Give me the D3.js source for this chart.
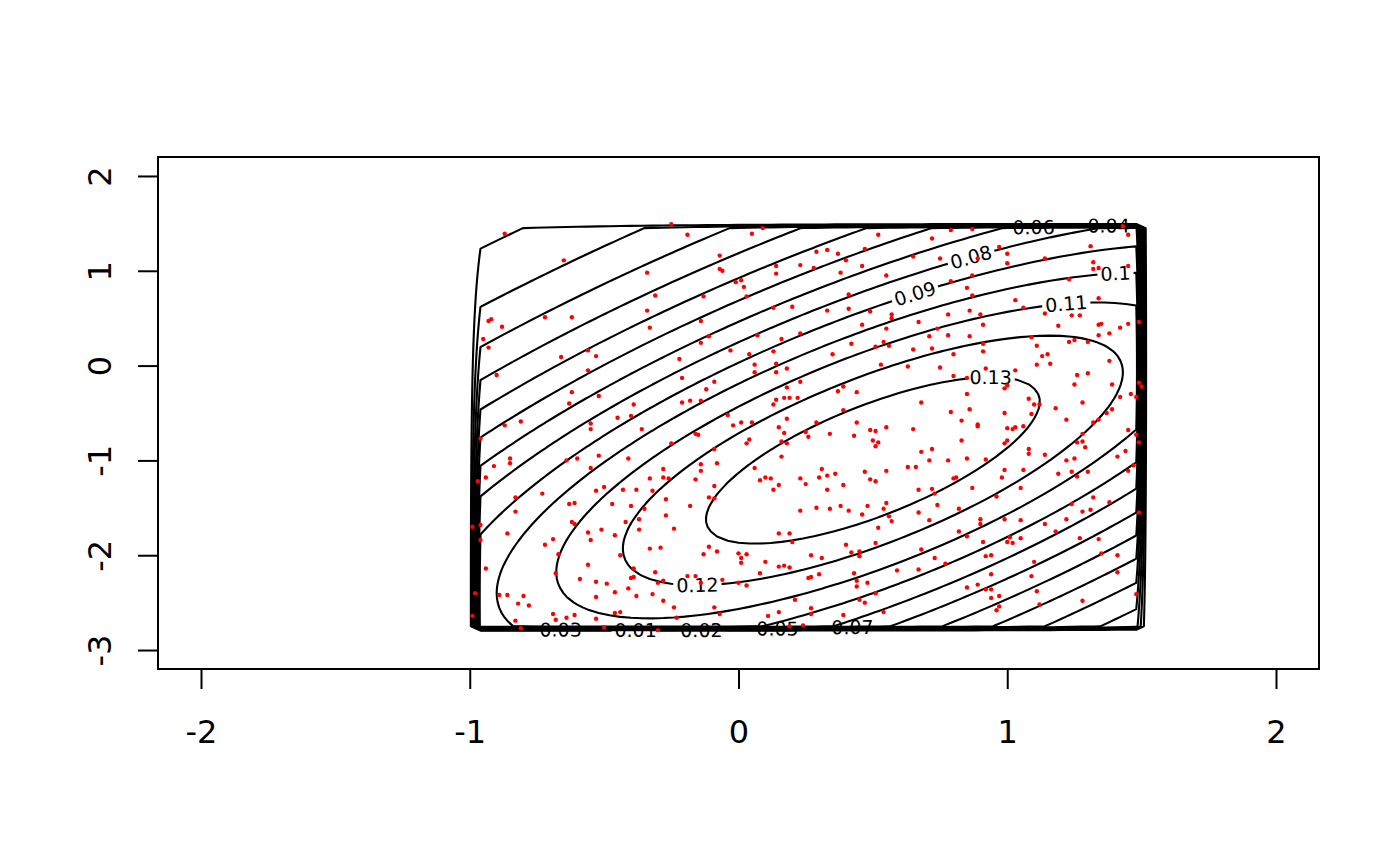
<!DOCTYPE html>
<html>
<head>
<meta charset="utf-8">
<script src="https://cdn.jsdelivr.net/npm/d3@7"></script>
<style>
  body { margin: 0; background: #fff; }
  svg { display: block; }
  text { font-family: "DejaVu Sans", sans-serif; }
</style>
</head>
<body>
<svg id="chart" width="1400" height="866"></svg>
<script>
// ---------------- data ----------------
const xTicks = [-2, -1, 0, 1, 2];
const yTicks = [-3, -2, -1, 0, 1, 2];

// truncated bivariate normal
const densMean = [0.5, -1];
const densSigma = [[3, 3], [3, 6]];
const densLower = [-1, -2.8];
const densUpper = [1.5, 1.5];

const contourLevels = [0.01, 0.02, 0.03, 0.04, 0.05, 0.06, 0.07, 0.08, 0.09, 0.10, 0.11, 0.12, 0.13];

// contour labels (level, approximate data position)
const labelLevels = [0.06, 0.04, 0.08, 0.1, 0.09, 0.11, 0.13, 0.12, 0.03, 0.01, 0.02, 0.05, 0.07];
const labelX = [1.098, 1.377, 0.867, 1.403, 0.659, 1.220, 0.938, -0.153, -0.662, -0.383, -0.138, 0.145, 0.424];
const labelY = [1.453, 1.463, 1.126, 0.958, 0.737, 0.632, -0.158, -2.295, -2.79, -2.80, -2.80, -2.79, -2.78];

// sampled points
const samplePoints = [
[-0.87,1.39],[-0.25,1.49],[-0.19,1.38],[-0.65,1.11],[-0.34,0.98],[-0.31,0.74],[-0.93,0.47],[-0.92,0.49],[-0.88,0.41],[-0.72,0.51],[-0.62,0.51],[-0.34,0.58],[-0.33,0.40],[-0.95,0.28],[-0.93,0.19],[-0.56,0.16],[-0.53,0.10],[-0.66,0.09],[-0.22,0.07],
[0.09,1.45],[0.05,1.39],[0.52,1.38],[-0.07,1.16],[0.29,1.20],[0.33,1.22],[0.37,1.18],[0.47,1.23],[0.40,1.11],[0.65,1.15],[-0.07,1.02],[-0.06,1.00],[0.14,1.05],[0.14,0.97],[0.23,1.06],[0.28,1.03],[0.46,1.05],[0.38,0.98],[0.55,0.95],[-0.01,0.88],[0.01,0.90],[0.02,0.83],[0.03,0.73],[-0.13,0.73],[0.41,0.75],[0.13,0.61],[0.20,0.62],[0.33,0.58],[0.41,0.60],[0.49,0.57],[0.57,0.54],[0.57,0.50],[0.67,0.46],[-0.14,0.47],[0.46,0.43],[0.55,0.39],[-0.11,0.31],[0.07,0.32],[0.23,0.34],[0.16,0.28],[-0.14,0.24],[0.42,0.23],[0.54,0.25],[0.56,0.21],[0.51,0.20],[0.65,0.17],[-0.03,0.16],[0.13,0.15],[0.04,0.12],[0.35,0.12],
[0.79,1.43],[0.87,1.44],[1.43,1.47],[1.45,1.38],[0.72,1.34],[0.97,1.25],[1.31,1.26],[0.75,1.13],[0.89,1.13],[1.00,1.18],[1.00,1.08],[1.14,1.13],[1.32,1.09],[1.32,1.02],[1.34,1.03],[1.45,1.05],[0.87,0.95],[0.79,0.89],[1.23,0.91],[0.85,0.82],[0.87,0.74],[1.34,0.71],[1.03,0.69],[1.06,0.61],[0.78,0.54],[0.86,0.58],[0.90,0.54],[1.14,0.55],[1.24,0.53],[1.27,0.53],[1.49,0.46],[1.45,0.44],[1.42,0.40],[1.34,0.43],[1.35,0.44],[1.19,0.42],[0.91,0.43],[0.74,0.39],[0.71,0.31],[0.78,0.32],[0.86,0.31],[1.09,0.30],[1.38,0.34],[1.34,0.32],[1.23,0.25],[1.25,0.27],[1.30,0.25],[0.91,0.23],[0.72,0.18],[1.11,0.21],[0.91,0.15],[0.80,0.12],[1.13,0.10],[1.15,0.12],[1.38,0.05],
[-0.90,-0.10],[-0.56,-0.05],[-0.21,-0.13],[-0.62,-0.28],[-0.52,-0.32],[-0.63,-0.40],[-0.39,-0.41],[-0.21,-0.39],[-0.18,-0.37],[-0.87,-0.63],[-0.81,-0.59],[-0.55,-0.61],[-0.55,-0.67],[-0.45,-0.55],[-0.40,-0.53],[-0.36,-0.67],[-0.96,-0.77],[-0.25,-0.82],[-0.85,-0.98],[-0.85,-1.03],[-0.91,-1.06],[-0.64,-1.00],[-0.60,-0.98],[-0.52,-0.95],[-0.41,-0.98],[-0.55,-1.08],[-0.94,-1.18],[-0.97,-1.22],[-0.28,-1.09],[-0.28,-1.18],[-0.26,-1.19],[-0.33,-1.19],[-0.16,-1.20],[-0.50,-1.28],[-0.53,-1.32],[-0.43,-1.31],[-0.38,-1.31],[-0.32,-1.32],[-0.83,-1.39],[-0.73,-1.35],[-0.27,-1.41],[-0.61,-1.45],[-0.63,-1.46],[-0.47,-1.46],
[0.06,0.01],[0.14,0.02],[0.53,0.01],[0.63,-0.01],[0.06,-0.07],[0.14,-0.07],[0.18,-0.03],[-0.09,-0.17],[-0.12,-0.25],[0.23,-0.17],[0.18,-0.23],[0.39,-0.22],[0.37,-0.27],[0.44,-0.28],[-0.14,-0.37],[0.14,-0.36],[0.13,-0.41],[0.17,-0.34],[0.19,-0.34],[0.22,-0.34],[0.68,-0.39],[0.39,-0.47],[-0.04,-0.52],[-0.02,-0.63],[0.01,-0.60],[0.05,-0.60],[0.18,-0.56],[0.29,-0.60],[0.44,-0.60],[0.15,-0.65],[-0.16,-0.72],[-0.15,-0.73],[0.17,-0.71],[0.25,-0.70],[0.26,-0.75],[0.34,-0.72],[0.43,-0.74],[0.49,-0.68],[0.51,-0.69],[0.55,-0.65],[0.65,-0.67],[0.04,-0.78],[0.03,-0.82],[0.16,-0.80],[0.18,-0.82],[0.50,-0.79],[0.52,-0.81],[0.51,-0.85],[-0.09,-0.88],[0.16,-0.96],[0.68,-0.91],[-0.14,-1.04],[-0.08,-1.03],[-0.14,-1.11],[0.06,-1.08],[0.63,-1.07],[0.66,-1.07],[0.31,-1.09],[0.36,-1.14],[0.33,-1.16],[0.30,-1.18],[0.23,-1.19],[0.47,-1.12],[0.55,-1.11],[0.49,-1.20],[0.51,-1.22],[0.10,-1.18],[0.08,-1.21],[0.12,-1.19],[-0.09,-1.27],[0.15,-1.26],[0.13,-1.31],[0.25,-1.25],[0.39,-1.26],[0.33,-1.31],[0.67,-1.31],[-0.11,-1.39],[-0.09,-1.40],[0.55,-1.45],
[0.75,-0.02],[0.80,-0.11],[0.92,-0.03],[1.03,-0.05],[1.11,0.01],[1.16,0.02],[1.26,-0.10],[1.30,-0.08],[1.25,-0.20],[1.39,-0.20],[1.49,-0.18],[1.50,-0.22],[0.85,-0.13],[1.00,-0.21],[0.99,-0.24],[0.85,-0.30],[1.46,-0.30],[1.48,-0.33],[1.42,-0.33],[1.08,-0.35],[1.10,-0.41],[1.12,-0.41],[1.28,-0.39],[1.18,-0.45],[0.86,-0.46],[0.79,-0.49],[0.99,-0.50],[1.09,-0.51],[1.39,-0.46],[1.37,-0.50],[0.83,-0.58],[1.22,-0.57],[1.34,-0.57],[1.32,-0.60],[0.89,-0.62],[0.89,-0.64],[1.00,-0.66],[1.02,-0.67],[1.03,-0.65],[1.06,-0.64],[1.45,-0.68],[1.28,-0.72],[1.48,-0.73],[0.83,-0.79],[1.00,-0.79],[0.99,-0.82],[1.26,-0.81],[1.28,-0.80],[1.49,-0.81],[1.29,-0.86],[0.72,-0.88],[1.08,-0.88],[1.44,-0.90],[1.08,-0.93],[1.14,-0.94],[0.71,-1.00],[0.78,-1.00],[0.85,-0.98],[0.92,-0.99],[1.22,-1.00],[1.25,-0.98],[1.41,-0.96],[1.47,-1.05],[0.99,-1.10],[1.06,-1.10],[1.24,-1.12],[1.30,-1.12],[1.45,-1.11],[1.19,-1.14],[1.26,-1.17],[0.80,-1.19],[0.81,-1.18],[0.98,-1.18],[0.72,-1.30],[0.73,-1.35],[0.87,-1.29],[1.05,-1.29],[0.96,-1.38],[1.32,-1.39],[1.38,-1.44],[1.24,-1.46],
[-0.40,-1.48],[-0.18,-1.48],[-0.83,-1.54],[-0.35,-1.51],[-0.27,-1.58],[-0.96,-1.68],[-0.99,-1.70],[-0.62,-1.65],[-0.61,-1.67],[-0.42,-1.65],[-0.37,-1.62],[-0.24,-1.72],[-0.37,-1.73],[-0.86,-1.77],[-0.56,-1.76],[-0.51,-1.73],[-0.46,-1.79],[-0.96,-1.84],[-0.69,-1.83],[-0.72,-1.89],[-0.55,-1.84],[-0.33,-1.93],[-0.29,-1.92],[-0.67,-1.99],[-0.44,-2.00],[-0.94,-2.14],[-0.56,-2.10],[-0.39,-2.14],[-0.31,-2.18],[-0.68,-2.19],[-0.59,-2.25],[-0.53,-2.28],[-0.49,-2.30],[-0.40,-2.24],[-0.39,-2.23],[-0.30,-2.29],[-0.28,-2.27],[-0.19,-2.22],[-0.41,-2.35],[-0.46,-2.39],[-0.98,-2.40],[-0.89,-2.42],[-0.86,-2.42],[-0.80,-2.43],[-0.78,-2.53],[-0.82,-2.51],[-0.53,-2.44],[-0.38,-2.43],[-0.32,-2.41],[-0.28,-2.48],[-0.24,-2.55],[-0.23,-2.66],[-0.99,-2.64],[-0.83,-2.69],[-0.69,-2.62],[-0.68,-2.68],[-0.64,-2.66],[-0.61,-2.63],[-0.53,-2.67],[-0.46,-2.61],[-0.44,-2.60],[-0.81,-2.77],[-0.50,-2.76],[-0.30,-2.79],
[0.23,-1.53],[0.29,-1.50],[0.34,-1.51],[0.38,-1.48],[0.41,-1.53],[0.46,-1.57],[0.48,-1.48],[0.54,-1.51],[0.56,-1.59],[0.57,-1.64],[0.67,-1.55],[0.52,-1.71],[0.15,-1.77],[0.19,-1.77],[0.20,-1.86],[-0.11,-1.91],[-0.13,-1.99],[-0.08,-1.96],[0.00,-1.98],[0.01,-2.03],[0.01,-2.08],[0.03,-1.99],[0.10,-2.07],[0.15,-2.12],[0.17,-2.11],[0.19,-2.13],[0.27,-2.00],[0.31,-2.03],[0.40,-1.89],[0.42,-1.97],[0.45,-1.96],[0.45,-2.01],[0.51,-1.87],[0.68,-1.94],[0.08,-2.19],[-0.16,-2.22],[-0.14,-2.29],[-0.06,-2.26],[0.00,-2.29],[0.03,-2.32],[0.26,-2.24],[0.27,-2.23],[0.30,-2.20],[0.43,-2.19],[0.44,-2.27],[0.44,-2.33],[0.48,-2.29],[0.59,-2.16],[0.67,-2.15],[0.51,-2.40],[0.21,-2.47],[0.45,-2.47],[0.47,-2.50],[-0.09,-2.55],[-0.07,-2.62],[0.15,-2.60],[0.11,-2.64],[0.27,-2.56],[0.27,-2.62],[0.39,-2.63],[0.54,-2.60],[0.19,-2.75],[0.24,-2.74],
[0.74,-1.47],[0.82,-1.51],[1.28,-1.54],[1.31,-1.52],[1.49,-1.55],[0.71,-1.63],[0.90,-1.62],[0.90,-1.67],[0.99,-1.62],[1.05,-1.63],[1.14,-1.67],[1.22,-1.62],[0.82,-1.75],[0.85,-1.80],[1.18,-1.75],[1.01,-1.81],[1.00,-1.86],[1.02,-1.87],[1.05,-1.82],[1.27,-1.82],[1.34,-1.83],[0.91,-1.86],[0.92,-2.01],[0.94,-2.00],[1.35,-1.98],[1.41,-2.00],[0.73,-2.03],[0.77,-2.09],[1.10,-2.07],[0.94,-2.20],[1.09,-2.22],[1.41,-2.18],[0.85,-2.34],[0.89,-2.31],[0.92,-2.36],[0.94,-2.36],[0.94,-2.45],[0.97,-2.43],[1.11,-2.38],[0.97,-2.54],[0.96,-2.58],[1.12,-2.52],[1.28,-2.48],[1.48,-2.41]
];

// ---------------- layout ----------------
const svg = d3.select("#chart");
const box = { left: 158, right: 1319, top: 157, bottom: 669 };
const x = d3.scaleLinear().domain([-2.16, 2.16]).range([box.left, box.right]);
const y = d3.scaleLinear().domain([-3.2, 2.2]).range([box.bottom, box.top]);

// ---------------- density grid ----------------
const gridX0 = -2, gridDX = 0.04, nx = 101;
const gridY0 = -3, gridDY = 0.05, ny = 101;
const gxAt = i => (gridX0 * 100 + i * gridDX * 100) / 100;
const gyAt = j => (gridY0 * 100 + j * gridDY * 100) / 100;

const det = densSigma[0][0] * densSigma[1][1] - densSigma[0][1] * densSigma[1][0];
const inv00 = densSigma[1][1] / det, inv11 = densSigma[0][0] / det, inv01 = -densSigma[0][1] / det;
function phi2(px, py) {
  const dx = px - densMean[0], dy = py - densMean[1];
  const q = inv00 * dx * dx + 2 * inv01 * dx * dy + inv11 * dy * dy;
  return Math.exp(-q / 2) / (2 * Math.PI * Math.sqrt(det));
}
// probability mass inside the truncation box (midpoint rule)
let mass = 0;
{
  const N = 500;
  const hx = (densUpper[0] - densLower[0]) / N, hy = (densUpper[1] - densLower[1]) / N;
  for (let i = 0; i < N; i++) for (let j = 0; j < N; j++)
    mass += phi2(densLower[0] + (i + 0.5) * hx, densLower[1] + (j + 0.5) * hy);
  mass *= hx * hy;
}
const values = new Float64Array(nx * ny);
for (let j = 0; j < ny; j++) {
  const yy = gyAt(j);
  for (let i = 0; i < nx; i++) {
    const xx = gxAt(i);
    const inside = xx > densLower[0] && xx < densUpper[0] && yy > densLower[1] && yy < densUpper[1];
    values[j * nx + i] = inside ? phi2(xx, yy) / mass : 0;
  }
}
const contours = d3.contours().size([nx, ny]).thresholds(contourLevels)(values);

const toPx = p => [x(gridX0 + (p[0] - 0.5) * gridDX), y(gridY0 + (p[1] - 0.5) * gridDY)];
const ringsByLevel = new Map();
contours.forEach(c => {
  const rings = [];
  c.coordinates.forEach(poly => poly.forEach(ring => rings.push(ring.map(toPx))));
  ringsByLevel.set(c.value, rings);
});
const keyOf = v => Math.round(v * 100);
const ringsFor = lv => {
  for (const [k, r] of ringsByLevel) if (keyOf(k) === keyOf(lv)) return r;
  return [];
};

const defs = svg.append("defs");
const gLines = svg.append("g").attr("fill", "none").attr("stroke", "#000").attr("stroke-width", 2.1)
  .attr("stroke-linejoin", "round");
contours.forEach(c => {
  const rings = ringsFor(c.value);
  const d = rings.map(r => "M" + r.map(p => p[0].toFixed(2) + "," + p[1].toFixed(2)).join("L") + "Z").join("");
  gLines.append("path").attr("d", d).attr("data-level", keyOf(c.value));
});

// ---------------- contour labels ----------------
const labelFont = 19;
const gLabels = svg.append("g").attr("font-size", labelFont).attr("fill", "#000");
labelLevels.forEach((lv, k) => {
  let px = x(labelX[k]), py = y(labelY[k]);
  const rings = ringsFor(lv);
  let best = { d: Infinity, x: px, y: py, a: 0 };
  rings.forEach(r => {
    for (let i = 0; i < r.length - 1; i++) {
      const [x1, y1] = r[i], [x2, y2] = r[i + 1];
      const vx = x2 - x1, vy = y2 - y1, l2 = vx * vx + vy * vy;
      if (l2 === 0) continue;
      let t = ((px - x1) * vx + (py - y1) * vy) / l2;
      t = Math.max(0, Math.min(1, t));
      const qx = x1 + t * vx, qy = y1 + t * vy;
      const dd = (qx - px) ** 2 + (qy - py) ** 2;
      if (dd < best.d) {
        let a = Math.atan2(vy, vx) * 180 / Math.PI;
        if (a > 90) a -= 180;
        if (a < -90) a += 180;
        best = { d: dd, x: qx, y: qy, a };
      }
    }
  });
  const t = gLabels.append("text")
    .attr("text-anchor", "middle")
    .attr("dy", "0.36em")
    .attr("transform", `translate(${best.x},${best.y}) rotate(${best.a})`)
    .text(String(lv));
  const w = t.node().getComputedTextLength();
  const m = defs.append("mask").attr("id", "gap" + keyOf(lv))
    .attr("maskUnits", "userSpaceOnUse").attr("x", 0).attr("y", 0).attr("width", 1400).attr("height", 866);
  m.append("rect").attr("x", 0).attr("y", 0).attr("width", 1400).attr("height", 866).attr("fill", "#fff");
  m.append("rect").attr("x", -w / 2 - 3).attr("y", -labelFont * 0.45).attr("width", w + 6).attr("height", labelFont * 0.9)
    .attr("fill", "#000").attr("transform", `translate(${best.x},${best.y}) rotate(${best.a})`);
  gLines.select(`path[data-level="${keyOf(lv)}"]`).attr("mask", `url(#gap${keyOf(lv)})`);
});

// ---------------- points ----------------
svg.append("g").attr("fill", "#ff0000")
  .selectAll("circle").data(samplePoints).join("circle")
  .attr("cx", d => x(d[0])).attr("cy", d => y(d[1])).attr("r", 2.2);

// ---------------- box and axes ----------------
svg.append("rect").attr("x", box.left).attr("y", box.top)
  .attr("width", box.right - box.left).attr("height", box.bottom - box.top)
  .attr("fill", "none").attr("stroke", "#000").attr("stroke-width", 2);

const axisFont = 32;
const xAxis = svg.append("g").attr("transform", `translate(0,${box.bottom + 1})`)
  .call(d3.axisBottom(x).tickValues(xTicks).tickSize(19).tickSizeOuter(0).tickFormat(d3.format("d")));
xAxis.select(".domain").remove();
xAxis.selectAll("line").attr("stroke", "#000").attr("stroke-width", 2);
xAxis.selectAll("text").attr("font-size", axisFont).attr("font-family", "DejaVu Sans, sans-serif")
  .attr("fill", "#000").attr("y", 61).attr("dy", "0.36em").text(d => d < 0 ? "-" + Math.abs(d) : String(d));

const yAxis = svg.append("g").attr("transform", `translate(${box.left - 1},0)`)
  .call(d3.axisLeft(y).tickValues(yTicks).tickSize(19).tickSizeOuter(0).tickFormat(d3.format("d")));
yAxis.select(".domain").remove();
yAxis.selectAll("line").attr("stroke", "#000").attr("stroke-width", 2);
yAxis.selectAll("text").attr("font-size", axisFont).attr("font-family", "DejaVu Sans, sans-serif")
  .attr("fill", "#000").attr("x", 0).attr("y", 0).attr("dy", "0.36em")
  .attr("text-anchor", "middle").attr("transform", "translate(-58,0) rotate(-90)")
  .text(d => d < 0 ? "-" + Math.abs(d) : String(d));
</script>
</body>
</html>
